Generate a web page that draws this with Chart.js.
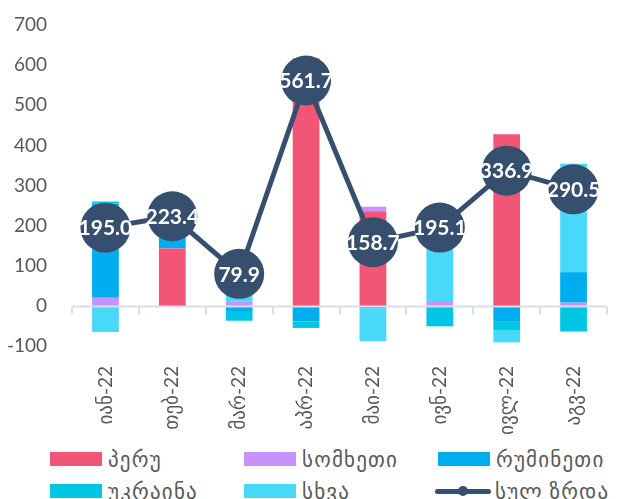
<!DOCTYPE html>
<html>
<head>
<meta charset="utf-8">
<script src="https://cdn.jsdelivr.net/npm/chart.js@4/dist/chart.umd.min.js"></script>
<style>
    html, body { margin: 0; padding: 0; background: #fff; overflow: hidden; }
    #wrap { position: relative; width: 629px; height: 499px; }
    #growth { display: block; }
    .legend { position: absolute; left: 50px; top: 448px; display: grid; grid-template-columns: 194px 194px 194px; row-gap: 11px; }
    .legend-item { display: flex; align-items: center; height: 21px; font-family: Lato, "DejaVu Sans", sans-serif; font-size: 21px; letter-spacing: 1.2px; color: #595959; white-space: nowrap; }
    .legend-box { width: 52px; height: 14px; margin-right: 6px; }
    .legend-line { position: relative; width: 56px; height: 14px; margin-right: 4px; margin-left: -3px; }
    .legend-line:before { content: ""; position: absolute; left: 0; right: 0; top: 5px; height: 5px; border-radius: 3px; background: #374F6E; }
    .legend-line:after { content: ""; position: absolute; left: 23px; top: 2px; width: 10px; height: 10px; border-radius: 50%; background: #374F6E; }
</style>
</head>
<body>
<div id="wrap">
    <canvas id="growth" width="632" height="446"></canvas>
    <div class="legend" id="legend"></div>
</div>
<script>
var months = ["იან-22", "თებ-22", "მარ-22", "აპრ-22", "მაი-22", "ივნ-22", "ივლ-22", "აგვ-22"];

var peru = [0, 143, 0, 617, 236, 0, 428, 0];
var armenia = [20, 0, 10, 0, 11, 12, 0, 8];
var romania = [235, 80, -15, -39, 0, 0, -38, 76];
var ukraine = [5, 0, -22, -16, -6, -51, -22, -64];
var other = [-65, 0, 108, 0, -82, 234, -31, 270];
var totalGrowth = [195.0, 223.4, 79.9, 561.7, 158.7, 195.1, 336.9, 290.5];

var yTicks = [-100, 0, 100, 200, 300, 400, 500, 600, 700];

var seriesNames = ["პერუ", "სომხეთი", "რუმინეთი", "უკრაინა", "სხვა", "სულ ზრდა"];
var seriesColors = ["#F15677", "#C792FA", "#00AEEF", "#00C6E4", "#48D8F8", "#374F6E"];

var numFont = "Lato, 'DejaVu Sans', sans-serif";

function barSet(i, values) {
    return {
        type: 'bar',
        label: seriesNames[i],
        data: values,
        backgroundColor: seriesColors[i],
        stack: 'countries',
        order: 1,
        barPercentage: 0.4,
        categoryPercentage: 1
    };
}

// zero line with small ticks between months, then the numbers in the markers
var zeroAxis = {
    id: 'zeroAxis',
    afterDatasetsDraw: function (chart) {
        var ctx = chart.ctx;
        var x = chart.scales.x;
        var y0 = Math.round(chart.scales.y.getPixelForValue(0)) + 0.5;
        var area = chart.chartArea;
        var half = (x.getPixelForValue(1) - x.getPixelForValue(0)) / 2;

        ctx.save();
        ctx.strokeStyle = '#D6DFEA';
        ctx.lineWidth = 2;
        ctx.beginPath();
        ctx.moveTo(area.left, y0);
        ctx.lineTo(area.right, y0);
        for (var i = 0; i <= months.length; i++) {
            var px = Math.round(x.getPixelForValue(i) - half);
            ctx.moveTo(px, y0);
            ctx.lineTo(px, y0 + 8);
        }
        ctx.stroke();

        var meta = chart.getDatasetMeta(5);
        ctx.fillStyle = '#fff';
        ctx.font = 'bold 21px ' + numFont;
        ctx.textAlign = 'center';
        ctx.textBaseline = 'middle';
        meta.data.forEach(function (pt, i) {
            ctx.fillText(totalGrowth[i].toFixed(1), pt.x, pt.y + 1);
        });
        ctx.restore();
    }
};

function initChart() {
    var ctx = document.getElementById("growth").getContext('2d');

    var data = {
        labels: months,
        datasets: [
            barSet(0, peru),
            barSet(1, armenia),
            barSet(2, romania),
            barSet(3, ukraine),
            barSet(4, other),
            {
                type: 'line',
                label: seriesNames[5],
                data: totalGrowth,
                borderColor: seriesColors[5],
                backgroundColor: seriesColors[5],
                borderWidth: 5,
                pointRadius: 25,
                pointHoverRadius: 25,
                pointBorderWidth: 0,
                pointBackgroundColor: seriesColors[5],
                tension: 0,
                stack: 'total',
                order: 0
            }
        ]
    };

    var options = {
        responsive: false,
        animation: false,
        layout: { padding: { top: 20, right: 0, left: 0, bottom: 0 } },
        plugins: {
            legend: { display: false },
            tooltip: { enabled: false }
        },
        scales: {
            x: {
                stacked: true,
                offset: true,
                grid: { display: false },
                border: { display: false },
                ticks: {
                    color: '#595959',
                    font: { family: numFont, size: 19 },
                    minRotation: 90,
                    maxRotation: 90,
                    padding: 12
                },
                afterFit: function (s) { s.height = 100; }
            },
            y: {
                stacked: true,
                min: -100,
                max: 700,
                grid: { display: false, drawTicks: false },
                border: { display: false },
                afterBuildTicks: function (s) {
                    s.ticks = yTicks.map(function (v) { return { value: v }; });
                },
                ticks: {
                    color: '#595959',
                    font: { family: numFont, size: 19 },
                    padding: 25
                },
                afterFit: function (s) {
                    s.width = 72;
                    s.paddingTop = 10;
                    s.paddingBottom = 10;
                }
            }
        }
    };

    new Chart(ctx, {
        data: data,
        options: options,
        plugins: [zeroAxis]
    });
}

function initLegend() {
    var html = '';
    seriesNames.forEach(function (name, i) {
        var mark = i === 5
            ? '<span class="legend-line"></span>'
            : '<span class="legend-box" style="background:' + seriesColors[i] + '"></span>';
        html += '<div class="legend-item">' + mark + '<span>' + name + '</span></div>';
    });
    document.getElementById("legend").innerHTML = html;
}

initChart();
initLegend();
</script>
</body>
</html>
